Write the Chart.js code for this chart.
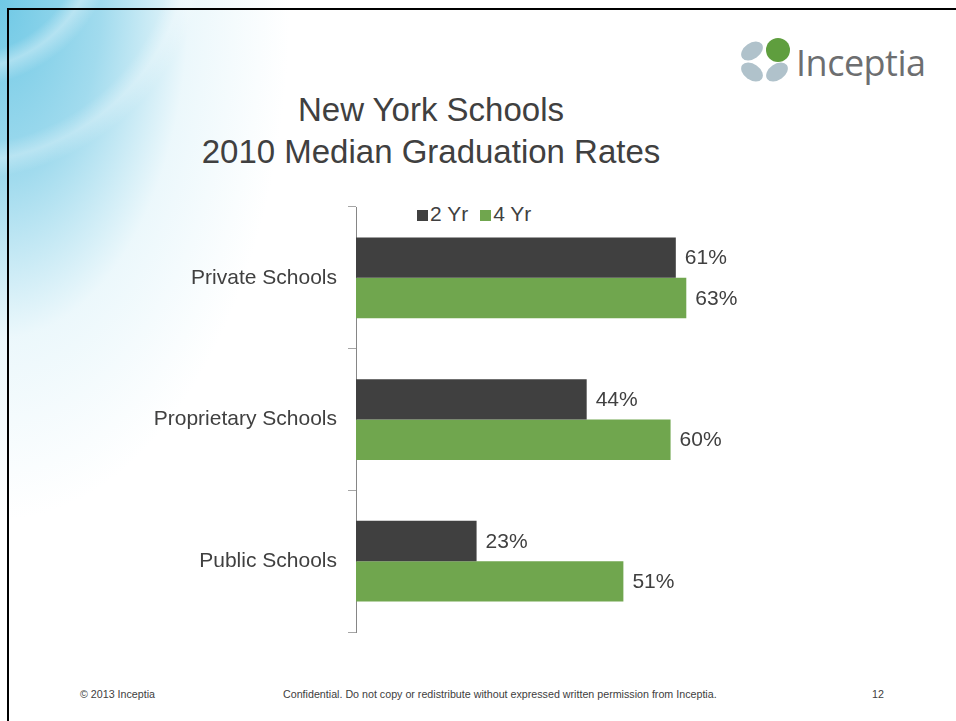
<!DOCTYPE html>
<html>
<head>
<meta charset="utf-8">
<script src="https://cdn.jsdelivr.net/npm/chart.js@4/dist/chart.umd.min.js"></script>
<style>
  html, body {
    margin: 0;
    padding: 0;
    width: 956px;
    height: 721px;
    overflow: hidden;
    background: #fff;
    font-family: "Liberation Sans", Arial, sans-serif;
  }
  .slide {
    position: absolute;
    left: 0;
    top: 0;
    width: 956px;
    height: 721px;
    background:
      radial-gradient(circle at -40px -70px, rgba(255,255,255,0) 125px, rgba(255,255,255,0.35) 140px, rgba(255,255,255,0) 158px),
      radial-gradient(circle at -40px -70px, rgba(255,255,255,0) 215px, rgba(255,255,255,0.3) 232px, rgba(255,255,255,0) 250px),
      radial-gradient(ellipse 290px 520px at 0 0, rgba(104,198,228,0.95) 0%, rgba(130,207,232,0.75) 35%, rgba(200,234,245,0.35) 65%, rgba(255,255,255,0) 100%);
  }
  .frame {
    position: absolute;
    left: 7px;
    top: 8px;
    right: 0;
    bottom: 0;
    border-left: 2px solid #000;
    border-top: 2px solid #000;
  }
  .title {
    position: absolute;
    left: 131px;
    width: 600px;
    top: 89px;
    text-align: center;
    font-size: 33px;
    line-height: 42px;
    color: #404040;
    white-space: nowrap;
  }
  .logo {
    position: absolute;
    left: 738px;
    top: 36px;
  }
  .logo-text {
    position: absolute;
    left: 796px;
    top: 38px;
    font-size: 36px;
    color: #6d6e70;
    font-family: "Open Sans", "Liberation Sans", sans-serif;
    letter-spacing: -0.5px;
  }
  .legend {
    position: absolute;
    left: 417px;
    top: 202px;
    font-size: 21px;
    color: #404040;
    white-space: nowrap;
  }
  .legend span.box {
    display: inline-block;
    width: 11px;
    height: 11px;
    margin-right: 2px;
  }
  .legend span.item {
    margin-right: 12px;
  }
  .footer {
    position: absolute;
    top: 688px;
    font-size: 10.7px;
    color: #404040;
    white-space: nowrap;
  }
  #chart {
    position: absolute;
    left: 0;
    top: 0;
  }
</style>
</head>
<body>
<div class="slide"></div>
<div class="frame"></div>

<svg class="logo" width="56" height="50" viewBox="0 0 56 50">
  <ellipse cx="14" cy="15" rx="12" ry="8" transform="rotate(-35 14 15)" fill="#b0c2cb"/>
  <ellipse cx="14" cy="36" rx="12" ry="8" transform="rotate(35 14 36)" fill="#b0c2cb"/>
  <ellipse cx="39" cy="36" rx="12" ry="8" transform="rotate(-35 39 36)" fill="#b0c2cb"/>
  <circle cx="40" cy="14" r="12" fill="#5f9e3e"/>
</svg>
<div class="logo-text">Inceptia</div>

<div class="title">New York Schools<br>2010 Median Graduation Rates</div>

<div class="legend" id="legend"></div>

<div class="footer" style="left:80px;">© 2013 Inceptia</div>
<div class="footer" style="left:283px;">Confidential. Do not copy or redistribute without expressed written permission from Inceptia.</div>
<div class="footer" style="left:872px;">12</div>

<canvas id="chart" width="956" height="721"></canvas>

<script>
const categories = ['Private Schools', 'Proprietary Schools', 'Public Schools']
const twoYear = [61, 44, 23]
const fourYear = [63, 60, 51]
const seriesNames = ['2 Yr', '4 Yr']
const seriesColors = ['#404040', '#70a64e']

// value labels at the end of each bar
const barLabels = {
  id: 'barLabels',
  afterDatasetsDraw (chart) {
    const ctx = chart.ctx
    ctx.save()
    ctx.font = '21px "Liberation Sans", Arial, sans-serif'
    ctx.fillStyle = '#404040'
    ctx.textAlign = 'left'
    ctx.textBaseline = 'middle'
    chart.data.datasets.forEach((ds, i) => {
      chart.getDatasetMeta(i).data.forEach((bar, j) => {
        ctx.fillText(ds.data[j] + '%', bar.x + 9, bar.y + 1)
      })
    })
    ctx.restore()
  }
}

const chart = new Chart(document.getElementById('chart'), {
  type: 'bar',
  data: {
    labels: categories,
    datasets: [
      { label: seriesNames[0], data: twoYear, backgroundColor: seriesColors[0] },
      { label: seriesNames[1], data: fourYear, backgroundColor: seriesColors[1] }
    ]
  },
  options: {
    indexAxis: 'y',
    responsive: false,
    animation: false,
    layout: { padding: { top: 207, bottom: 89, left: 0, right: 233 } },
    datasets: {
      bar: { categoryPercentage: 0.57, barPercentage: 1.0 }
    },
    plugins: {
      legend: { display: false },
      tooltip: { enabled: false }
    },
    scales: {
      x: { display: false, min: 0, max: 70 },
      y: {
        grid: { offset: true, drawOnChartArea: false, tickLength: 8, color: '#a6a6a6' },
        border: { color: '#868686', width: 1 },
        ticks: {
          padding: 11,
          color: '#404040',
          font: { size: 21, family: '"Liberation Sans", Arial, sans-serif' }
        },
        afterFit (scale) { scale.width = 356 }
      }
    }
  },
  plugins: [barLabels]
})

// legend built from the datasets
const legend = document.getElementById('legend')
chart.data.datasets.forEach((ds) => {
  const item = document.createElement('span')
  item.className = 'item'
  item.innerHTML = `<span class="box" style="background:${ds.backgroundColor}"></span>${ds.label}`
  legend.appendChild(item)
})
</script>
</body>
</html>
